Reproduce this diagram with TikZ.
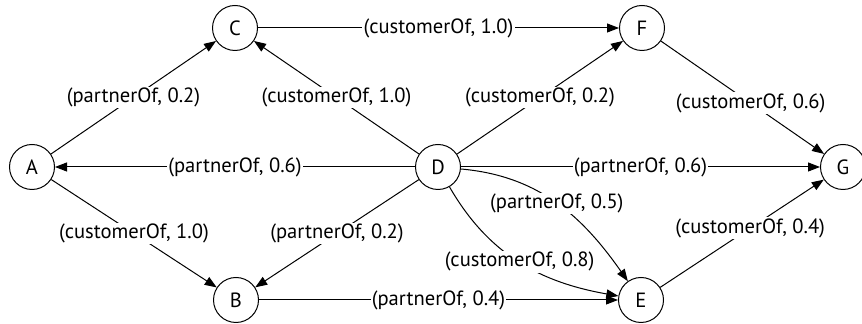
\documentclass[tikz,border=0pt]{standalone}
\usepackage{fontspec}
\setmainfont{PT Sans}
\usetikzlibrary{arrows.meta}
\tikzset{
  entity/.style={draw, circle, minimum size=22.5pt, inner sep=0pt, line width=0.5pt},
  rel/.style={-{Triangle[length=6pt,width=4.5pt]}, line width=0.5pt},
  lbl/.style={fill=white, inner sep=0.6pt}
}

\begin{document}
\begin{tikzpicture}[x=0.5pt, y=-0.5pt, font=\fontsize{10.3}{12}\selectfont]
    \useasboundingbox (0,0) rectangle (862,324);

    % entities
    \node[entity] (A) at (32,167) {A};
    \node[entity] (C) at (235,28) {C};
    \node[entity] (B) at (236,300) {B};
    \node[entity] (D) at (438,167) {D};
    \node[entity] (F) at (642,28) {F};
    \node[entity] (E) at (641,300) {E};
    \node[entity] (G) at (843,167) {G};

    % relations
    \draw[rel] (A) -- node[lbl] {(partnerOf, 0.2)} (C);
    \draw[rel] (A) -- node[lbl] {(customerOf, 1.0)} (B);
    \draw[rel] (D) -- node[lbl] {(partnerOf, 0.6)} (A);
    \draw[rel] (D) -- node[lbl] {(customerOf, 1.0)} (C);
    \draw[rel] (D) -- node[lbl] {(partnerOf, 0.2)} (B);
    \draw[rel] (C) -- node[lbl] {(customerOf, 1.0)} (F);
    \draw[rel] (B) -- node[lbl] {(partnerOf, 0.4)} (E);
    \draw[rel] (D) -- node[lbl] {(customerOf, 0.2)} (F);
    \draw[rel] (D) -- node[lbl] {(partnerOf, 0.6)} (G);
    \draw[rel] (D) to[out=-5, in=125] node[lbl] {(partnerOf, 0.5)} (E);
    \draw[rel] (D) to[out=-60, in=170] node[lbl] {(customerOf, 0.8)} (E);
    \draw[rel] (F) -- node[lbl, pos=0.55] {(customerOf, 0.6)} (G);
    \draw[rel] (E) -- node[lbl, pos=0.55] {(customerOf, 0.4)} (G);
\end{tikzpicture}
\end{document}
